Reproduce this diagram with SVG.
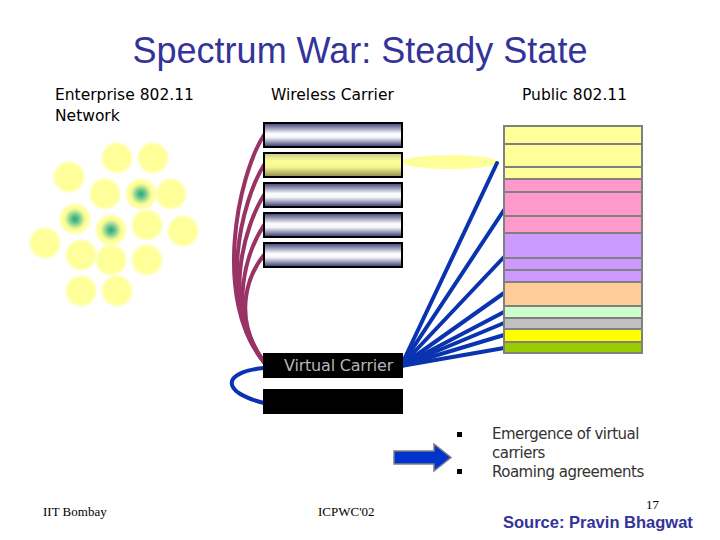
<svg xmlns="http://www.w3.org/2000/svg" width="720" height="540" viewBox="0 0 720 540">
<defs>
<linearGradient id="gBar" x1="0" y1="0" x2="0" y2="1">
<stop offset="0" stop-color="#3c3c78"/>
<stop offset="0.45" stop-color="#ffffff"/>
<stop offset="0.6" stop-color="#f4f4fa"/>
<stop offset="1" stop-color="#34346c"/>
</linearGradient>
<linearGradient id="gBarY" x1="0" y1="0" x2="0" y2="1">
<stop offset="0" stop-color="#c9c98e"/>
<stop offset="0.35" stop-color="#ffff99"/>
<stop offset="0.6" stop-color="#f4f492"/>
<stop offset="1" stop-color="#8a8a50"/>
</linearGradient>
<radialGradient id="gSpot">
<stop offset="0" stop-color="#13a080"/>
<stop offset="0.25" stop-color="#5cc08c"/>
<stop offset="0.7" stop-color="#ffff99"/>
<stop offset="1" stop-color="#ffff99"/>
</radialGradient>
<filter id="soft" x="-20%" y="-20%" width="140%" height="140%"><feGaussianBlur stdDeviation="0.8"/></filter>
</defs>
<style>
.cell{fill:#ffff99;filter:url(#soft)}
.spot{fill:url(#gSpot);filter:url(#soft)}
.bar{fill:url(#gBar);stroke:#000;stroke-width:2}
.hdr{font-family:"DejaVu Sans",Verdana,sans-serif;font-size:15.5px;fill:#000}
.row{stroke:#808080;stroke-width:2}
.pur{fill:none;stroke:#993366;stroke-width:4;stroke-linecap:round}
.blu{fill:none;stroke:#0a33b0;stroke-width:4;stroke-linecap:round}
.bul{font-family:"DejaVu Sans",Verdana,sans-serif;font-size:15px;letter-spacing:-0.5px;fill:#333}
.ft{font-family:"Liberation Serif","Times New Roman",serif;font-size:13px;fill:#000}
</style>
<rect width="720" height="540" fill="#fff"/>
<text id="title" x="360" y="63" text-anchor="middle" font-family="'Liberation Sans',Arial,sans-serif" font-size="36" fill="#333399">Spectrum War: Steady State</text>
<g id="labels">
<text class="hdr" x="55" y="100">Enterprise 802.11</text>
<text class="hdr" x="55" y="121">Network</text>
<text class="hdr" x="271" y="100">Wireless Carrier</text>
<text class="hdr" x="522" y="100">Public 802.11</text>
</g>
<g id="enterprise">
<circle class="cell" cx="117" cy="158" r="15"/>
<circle class="cell" cx="153" cy="158" r="15"/>
<circle class="cell" cx="69" cy="177" r="15"/>
<circle class="cell" cx="105" cy="194" r="15"/>
<circle class="spot" cx="141" cy="194" r="15"/>
<circle class="cell" cx="171" cy="194" r="15"/>
<circle class="spot" cx="75" cy="219" r="15"/>
<circle class="cell" cx="147" cy="225" r="15"/>
<circle class="spot" cx="111" cy="230" r="15"/>
<circle class="cell" cx="183" cy="231" r="15"/>
<circle class="cell" cx="45" cy="243" r="15"/>
<circle class="cell" cx="81" cy="255" r="15"/>
<circle class="cell" cx="111" cy="260" r="15"/>
<circle class="cell" cx="147" cy="260" r="15"/>
<circle class="cell" cx="81" cy="291" r="15"/>
<circle class="cell" cx="117" cy="291" r="15"/>
</g>
<g id="connectors">
<ellipse cx="450" cy="162" rx="48" ry="7" fill="#ffff99"/>
<path class="pur" d="M264,135 C238,175 212,300 264,362"/>
<path class="pur" d="M264,165 C242,200 216,300 264,362"/>
<path class="pur" d="M264,195 C245,225 220,305 264,362"/>
<path class="pur" d="M264,225 C248,250 225,310 264,362"/>
<path class="pur" d="M264,255 C250,272 230,315 264,362"/>
<path class="blu" d="M264,368 C222,372 220,392 264,403"/>
<path class="blu" d="M401,366 L497,163"/>
<path class="blu" d="M401,366 L504,210"/>
<path class="blu" d="M401,366 L504,257"/>
<path class="blu" d="M401,366 L504,293"/>
<path class="blu" d="M401,366 L504,312"/>
<path class="blu" d="M401,366 L504,323"/>
<path class="blu" d="M401,366 L504,335"/>
<path class="blu" d="M401,366 L504,348"/>
</g>
<g id="wireless-carrier">
<rect class="bar" x="264" y="123" width="138" height="24"/>
<rect class="bar" x="264" y="153" width="138" height="24" style="fill:url(#gBarY)"/>
<rect class="bar" x="264" y="183" width="138" height="24"/>
<rect class="bar" x="264" y="213" width="138" height="24"/>
<rect class="bar" x="264" y="243" width="138" height="24"/>
</g>
<g id="virtual-carrier">
<rect x="263" y="353" width="140" height="25" fill="#000"/>
<text x="284" y="371" font-family="'DejaVu Sans',Verdana,sans-serif" font-size="16" letter-spacing="-0.2" fill="#b4b4b4">Virtual Carrier</text>
<rect x="263" y="389" width="140" height="25" fill="#000"/>
</g>
<g id="public">
<rect x="504" y="126" width="138" height="53" fill="#ffff99"/>
<rect x="504" y="179" width="138" height="54" fill="#ff99cc"/>
<rect x="504" y="233" width="138" height="49" fill="#cc99ff"/>
<rect x="504" y="282" width="138" height="24" fill="#ffcc99"/>
<rect x="504" y="306" width="138" height="12" fill="#ccffcc"/>
<rect x="504" y="318" width="138" height="11" fill="#c0c0c0"/>
<rect x="504" y="329" width="138" height="13" fill="#ffff00"/>
<rect x="504" y="342" width="138" height="11" fill="#99cc00"/>
<g class="row">
<line x1="504" y1="144" x2="642" y2="144"/>
<line x1="504" y1="167" x2="642" y2="167"/>
<line x1="504" y1="179" x2="642" y2="179"/>
<line x1="504" y1="192" x2="642" y2="192"/>
<line x1="504" y1="216" x2="642" y2="216"/>
<line x1="504" y1="233" x2="642" y2="233"/>
<line x1="504" y1="258" x2="642" y2="258"/>
<line x1="504" y1="270" x2="642" y2="270"/>
<line x1="504" y1="282" x2="642" y2="282"/>
<line x1="504" y1="306" x2="642" y2="306"/>
<line x1="504" y1="318" x2="642" y2="318"/>
<line x1="504" y1="329" x2="642" y2="329"/>
<line x1="504" y1="342" x2="642" y2="342"/>
</g>
<rect x="504" y="126" width="138" height="227" fill="none" stroke="#808080" stroke-width="2"/>
</g>
<g id="arrow">
<path d="M394,451 L434,451 L434,444 L451,457.5 L434,471 L434,464 L394,464 Z" fill="#0033cc" stroke="#808080" stroke-width="1.5"/>
</g>
<g id="bullets">
<rect x="457" y="432" width="5" height="5" fill="#000"/>
<rect x="457" y="469" width="5" height="5" fill="#000"/>
<text class="bul" x="492" y="439">Emergence of virtual</text>
<text class="bul" x="492" y="458">carriers</text>
<text class="bul" x="492" y="477">Roaming agreements</text>
</g>
<g id="footer">
<text class="ft" x="43" y="516">IIT Bombay</text>
<text class="ft" x="318" y="516">ICPWC'02</text>
<text class="ft" x="646" y="509" font-size="13.5">17</text>
<text x="503" y="528" font-family="'Liberation Sans',Arial,sans-serif" font-size="16.5" font-weight="bold" fill="#333399">Source: Pravin Bhagwat</text>
</g>
</svg>
